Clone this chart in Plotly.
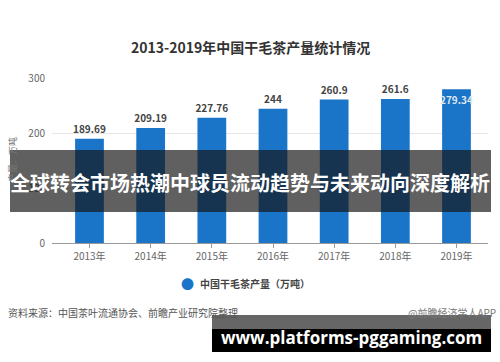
import plotly.graph_objects as go

years = ["2013年", "2014年", "2015年", "2016年", "2017年", "2018年", "2019年"]
output = [189.69, 209.19, 227.76, 244, 260.9, 261.6, 279.34]
labels = ["189.69", "209.19", "227.76", "244", "260.9", "261.6", "279.34"]
y_ticks = [0, 100, 200, 300]

FONT = "Noto Sans CJK SC"
BLUE = "#1a75c9"

positions = ["outside"] * 6 + ["inside"]

fig = go.Figure()
fig.add_trace(go.Bar(
    x=list(range(len(years))), y=output, width=0.47,
    marker=dict(color=BLUE, line=dict(width=0)),
    text=labels, texttemplate="<b>%{text}</b>",
    textposition=positions, insidetextanchor="end", textangle=0,
    textfont=dict(family=FONT, size=10, color="#444444"),
    outsidetextfont=dict(family=FONT, size=10, color="#444444"),
    insidetextfont=dict(family=FONT, size=10, color="#dfe6ee"),
    cliponaxis=False, showlegend=False, hoverinfo="skip",
))

fig.update_layout(
    width=500, height=362,
    margin=dict(l=52, r=12, t=78, b=119),
    paper_bgcolor="white", plot_bgcolor="white",
    font=dict(family=FONT, color="#555555"),
    uniformtext=dict(minsize=10, mode="show"),
    xaxis=dict(
        tickmode="array", tickvals=list(range(len(years))), ticktext=years,
        range=[-0.613, 6.515], showgrid=False,
        showline=True, linecolor="#999999", linewidth=1,
        ticks="outside", ticklen=4, tickcolor="#999999",
        tickfont=dict(size=10, color="#666666"), fixedrange=True,
    ),
    yaxis=dict(
        range=[0, 300], tickvals=y_ticks, showgrid=True,
        gridcolor="#e6e6e6", gridwidth=1, zeroline=False,
        showline=False, ticks="", ticklabelstandoff=6,
        tickfont=dict(size=10, color="#666666"), fixedrange=True,
    ),
)

def px_x(v):
    return (v - 52) / 436

def px_y(v):
    return (243 - v) / 165

def note(text, x, y, size, color, xanchor="center", family=FONT, angle=0):
    fig.add_annotation(text=text, xref="paper", yref="paper", x=px_x(x), y=px_y(y),
                       xanchor=xanchor, yanchor="middle", showarrow=False, textangle=angle,
                       font=dict(family=family, size=size, color=color))

# Title
note("<b>2013-2019年中国干毛茶产量统计情况</b>", 250, 47, 14, "#333333")
# y-axis unit
note("产量：万吨", 12, 160, 9, "#777777", angle=-90)
# legend
note("●", 187, 283, 13, BLUE)
note("<b>中国干毛茶产量（万吨）</b>", 198, 283, 10, "#444444", xanchor="left")
# source
note("资料来源：中国茶叶流通协会、前瞻产业研究院整理", 6, 312, 10, "#555555", xanchor="left")
note("@前瞻经济学人APP", 498, 312, 10, "#777777", xanchor="right")

# overlay banners
fig.add_shape(type="rect", xref="paper", yref="paper", x0=px_x(10), x1=px_x(491),
              y0=px_y(212), y1=px_y(150), fillcolor="rgba(20,20,20,0.68)", line=dict(width=0),
              layer="above")
note("<b>全球转会市场热潮中球员流动趋势与未来动向深度解析</b>", 250, 182, 20, "white")

fig.add_shape(type="rect", xref="paper", yref="paper", x0=px_x(212), x1=px_x(491),
              y0=px_y(329), y1=px_y(315), fillcolor="#666666", line=dict(width=0), layer="above")
fig.add_shape(type="rect", xref="paper", yref="paper", x0=px_x(212), x1=px_x(491),
              y0=px_y(352), y1=px_y(329), fillcolor="#000000", line=dict(width=0), layer="above")
note("<b>www.platforms-pggaming.com</b>", 351, 337, 17, "white", family="Open Sans")

fig.write_html("out.html", config={"displayModeBar": False, "staticPlot": True},
               post_script="document.body.style.margin='0';document.body.style.overflow='hidden';")
